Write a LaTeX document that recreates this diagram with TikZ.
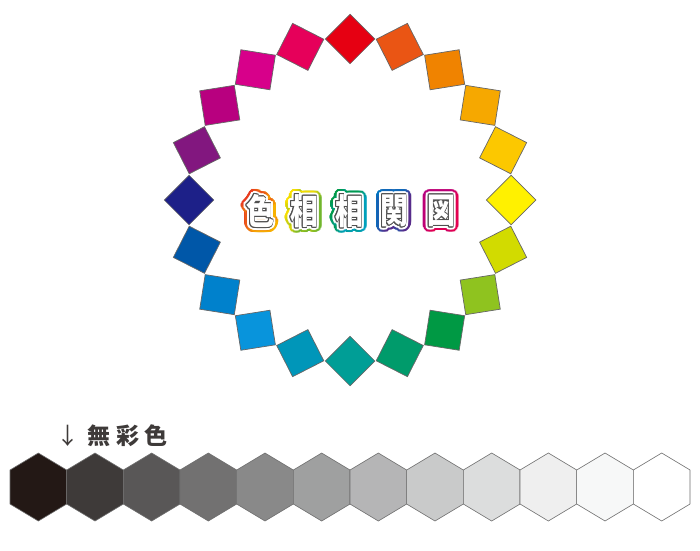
\documentclass[tikz,border=0pt]{standalone}
\usepackage{fontspec}
\newfontfamily\cjk{Noto Sans CJK JP}
\usetikzlibrary{calc}
\definecolor{sqline}{HTML}{666666}
\definecolor{hexline}{HTML}{6E6E6E}
\definecolor{labgray}{HTML}{3E3A39}
\definecolor{inkgray}{HTML}{505050}
\definecolor{tA1}{HTML}{E83820}\definecolor{tB1}{HTML}{F8B500}
\definecolor{tA2}{HTML}{FFE100}\definecolor{tB2}{HTML}{6DB52F}
\definecolor{tA3}{HTML}{009944}\definecolor{tB3}{HTML}{00A0C1}
\definecolor{tA4}{HTML}{0075C2}\definecolor{tB4}{HTML}{5A2A8A}
\definecolor{tA5}{HTML}{B5007F}\definecolor{tB5}{HTML}{E5004F}
\newcommand\halochar[6]{%
  \foreach \a in {0,12,...,348}{%
    \pgfmathtruncatemacro\p{50+50*cos(\a-150)}%
    \node[tch, text=#5!\p!#6] at ($(#2,#3)+(\a:5.3pt)$) {#4};
  }%
  \foreach \a in {0,30,...,330}{%
    \pgfmathtruncatemacro\p{50+50*cos(\a-150)}%
    \node[tch, text=#5!\p!#6] at ($(#2,#3)+(\a:3.8pt)$) {#4};
  }%
  \foreach \a in {0,20,...,340}{\node[tch, text=white] at ($(#2,#3)+(\a:2.8pt)$) {#4};}%
  \foreach \a in {0,30,...,330}{\node[tch, text=inkgray] at ($(#2,#3)+(\a:0.85pt)$) {#4};}%
  \node[tch, text=white] (#1) at (#2,#3) {#4};%
}
\begin{document}
\begin{tikzpicture}[x=1pt,y=1pt,
  sq/.style={draw=sqline, line width=0.7pt, minimum size=35pt, inner sep=0pt, outer sep=0pt},
  tch/.style={font=\cjk\bfseries\fontsize{35}{35}\selectfont, inner sep=0pt, xscale=0.8},
  lab/.style={font=\cjk\bfseries\fontsize{23}{23}\selectfont, text=labgray, inner sep=0pt}]
\useasboundingbox (0,0) rectangle (700,550);
\fill[white] (0,0) rectangle (700,550);
% hue circle
\coordinate (ctr) at (350,350);
\foreach \i/\c in {0/E60012,1/EA5514,2/F08300,3/F6A800,4/FCC800,5/FFF100,6/D2DB00,7/8FC31F,8/009944,9/009B6B,10/009E96,11/0096B9,12/0894DC,13/0081CC,14/0057A8,15/1D2088,16/82177F,17/B8007F,18/D7008A,19/E6005A}{
  \pgfmathsetmacro\a{90-18*\i}
  \definecolor{sqc}{HTML}{\c}
  \node[sq, fill=sqc, rotate=\a-45] (s\i) at ($(ctr)+(\a:161pt)$) {};
}
% title
\halochar{t1}{260}{339}{色}{tA1}{tB1}
\halochar{t2}{304}{339}{相}{tA2}{tB2}
\halochar{t3}{349}{339}{相}{tA3}{tB3}
\halochar{t4}{394}{339}{関}{tA4}{tB4}
\halochar{t5}{441}{339}{図}{tA5}{tB5}
% achromatic label
\node[lab, font=\cjk\fontsize{23}{23}\selectfont] (arr) at (68,114) {↓};
\node[lab] (l1) at (99,114) {無};
\node[lab] (l2) at (128,114) {彩};
\node[lab] (l3) at (156,114) {色};
% gray hexagons
\foreach \i/\g in {0/231815,1/3E3A39,2/595757,3/727171,4/898989,5/9FA0A0,6/B5B5B6,7/C9CACA,8/DCDDDD,9/EFEFEF,10/F7F8F8,11/FFFFFF}{
  \definecolor{hc}{HTML}{\g}
  \pgfmathsetmacro\cx{38.333+56.667*\i}
  \coordinate (h\i) at (\cx,63);
  \filldraw[fill=hc, draw=hexline, line width=0.6pt, line join=miter]
    ($(h\i)+(0,34)$) -- ++(28.333,-17) -- ++(0,-34) -- ++(-28.333,-17) -- ++(-28.333,17) -- ++(0,34) -- cycle;
}
\end{tikzpicture}
\end{document}
